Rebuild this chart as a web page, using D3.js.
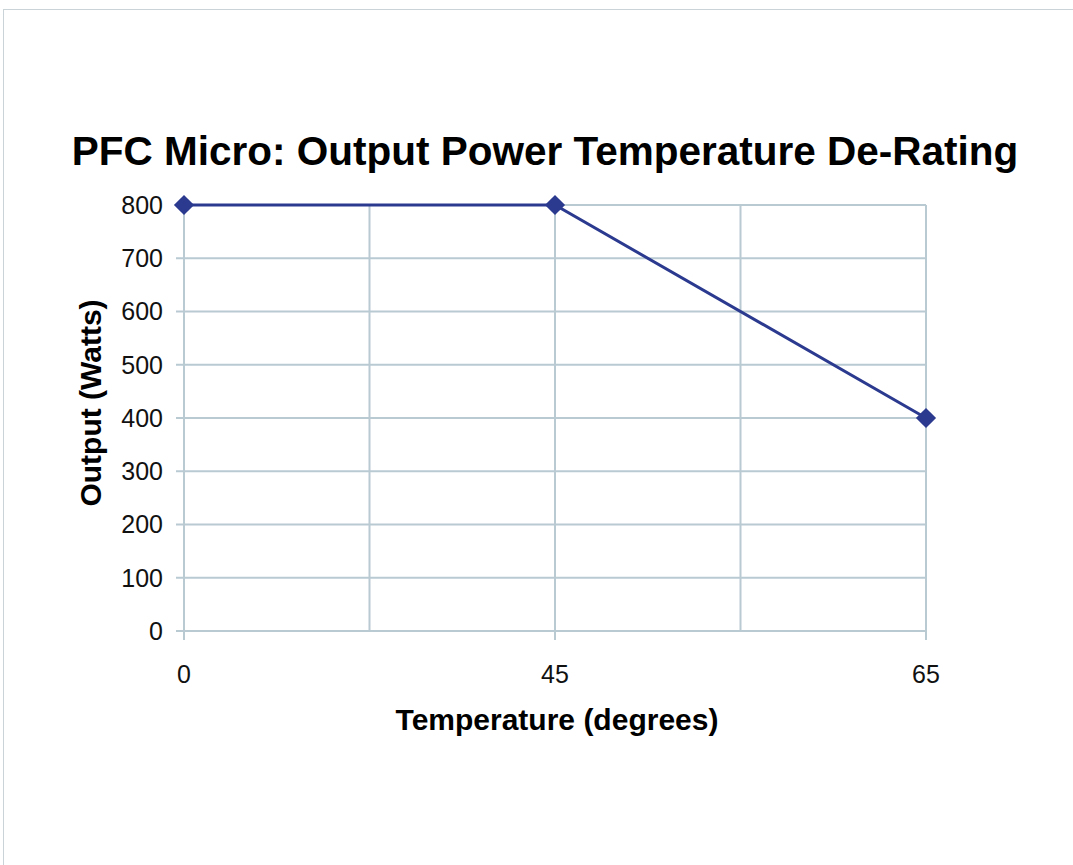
<!DOCTYPE html>
<html>
<head>
<meta charset="utf-8">
<script src="https://cdn.jsdelivr.net/npm/d3@7"></script>
<style>
  body { margin: 0; background: #fff; }
  svg { display: block; font-family: "Liberation Sans", Arial, sans-serif; }
</style>
</head>
<body>
<svg width="1073" height="865"></svg>
<script>
// chart data
var categories = ["0", "45", "65"];
var outputWatts = [800, 800, 400];
var yTicks = [0, 100, 200, 300, 400, 500, 600, 700, 800];

var svg = d3.select("svg"),
    margin = {top: 205, right: 147, bottom: 234, left: 184},
    width = +svg.attr("width") - margin.left - margin.right,
    height = +svg.attr("height") - margin.top - margin.bottom;

// outer frame
svg.append("rect")
    .attr("x", 3.5).attr("y", 9.5)
    .attr("width", 1080).attr("height", 900)
    .attr("fill", "none")
    .attr("stroke", "#c9d3d8");

var g = svg.append("g").attr("transform", "translate(" + margin.left + "," + margin.top + ")");

var x = d3.scaleLinear()
    .domain([0, categories.length - 1])
    .range([0, width]);

var y = d3.scaleLinear()
    .domain([0, 800])
    .range([height, 0]);

var gridColor = "#b9cad3";

// horizontal gridlines + left tick marks
g.append("g")
  .selectAll("line")
  .data(yTicks)
  .enter().append("line")
    .attr("x1", -8)
    .attr("x2", width)
    .attr("y1", function(d) { return y(d); })
    .attr("y2", function(d) { return y(d); })
    .attr("stroke", gridColor)
    .attr("stroke-width", 2);

// vertical gridlines (every half category)
var vGrid = d3.range(0, categories.length - 0.5, 0.5);
g.append("g")
  .selectAll("line")
  .data(vGrid)
  .enter().append("line")
    .attr("x1", function(d) { return x(d); })
    .attr("x2", function(d) { return x(d); })
    .attr("y1", 0)
    .attr("y2", function(d) { return d % 1 === 0 ? height + 9 : height; })
    .attr("stroke", gridColor)
    .attr("stroke-width", 2);

// y tick labels
g.append("g")
  .selectAll("text")
  .data(yTicks)
  .enter().append("text")
    .attr("x", -21)
    .attr("y", function(d) { return y(d); })
    .attr("dy", "0.35em")
    .attr("text-anchor", "end")
    .attr("font-size", 25)
    .attr("fill", "#111")
    .text(function(d) { return d; });

// x tick labels
g.append("g")
  .selectAll("text")
  .data(categories)
  .enter().append("text")
    .attr("x", function(d, i) { return x(i); })
    .attr("y", height + 52)
    .attr("text-anchor", "middle")
    .attr("font-size", 25)
    .attr("fill", "#111")
    .text(function(d) { return d; });

// series line
var line = d3.line()
    .x(function(d, i) { return x(i); })
    .y(function(d) { return y(d); });

g.append("path")
    .datum(outputWatts)
    .attr("fill", "none")
    .attr("stroke", "#2b3a8f")
    .attr("stroke-width", 3)
    .attr("d", line);

g.append("g")
  .selectAll("path")
  .data(outputWatts)
  .enter().append("path")
    .attr("transform", function(d, i) { return "translate(" + x(i) + "," + y(d) + ")"; })
    .attr("d", d3.symbol().type(d3.symbolDiamond2).size(260))
    .attr("fill", "#2b3a8f");

// title
svg.append("text")
    .attr("x", 545)
    .attr("y", 165)
    .attr("text-anchor", "middle")
    .attr("font-size", 40.5)
    .attr("font-weight", "bold")
    .attr("fill", "#000")
    .text("PFC Micro: Output Power Temperature De-Rating");

// axis titles
svg.append("text")
    .attr("x", 557)
    .attr("y", 730)
    .attr("text-anchor", "middle")
    .attr("font-size", 30)
    .attr("font-weight", "bold")
    .attr("fill", "#000")
    .text("Temperature (degrees)");

svg.append("text")
    .attr("transform", "translate(101,403) rotate(-90)")
    .attr("text-anchor", "middle")
    .attr("font-size", 30)
    .attr("font-weight", "bold")
    .attr("fill", "#000")
    .text("Output (Watts)");
</script>
</body>
</html>
